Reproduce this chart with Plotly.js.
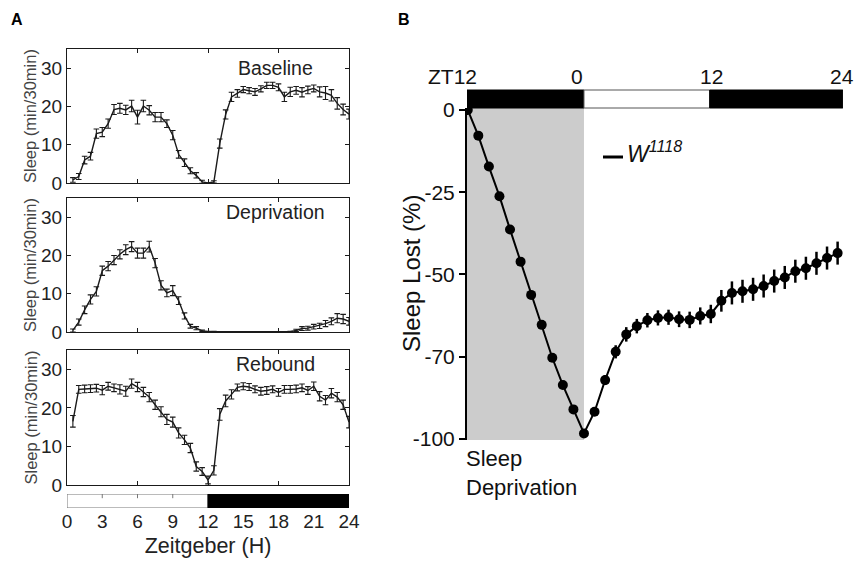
<!DOCTYPE html>
<html>
<head>
<meta charset="utf-8">
<script src="https://cdn.plot.ly/plotly-3.0.1.min.js"></script>
<style>html,body{margin:0;padding:0;background:#fff;}#chart{width:856px;height:568px;}</style>
</head>
<body>
<div id="chart"></div>
<script>
// ---------- Panel A data (half-hour bins, Zeitgeber hours) ----------
const zt = [];
for (let i = 1; i <= 48; i++) zt.push(i * 0.5);

const baseline = [0.8,1.7,6.0,7.0,12.9,13.3,15.5,19.2,19.5,19.1,20.1,17.2,20.1,19.0,17.2,17.2,15.5,12.5,7.5,5.3,3.2,2.0,0.3,0,
  0.3,10.3,17.9,22.5,23.4,24.4,24.1,23.8,24.6,25.5,25.5,25.0,22.5,23.8,24.2,23.7,24.3,24.7,23.8,23.5,22.9,20.8,19.2,18.0];
const baselineErr = [0.6,0.8,1.0,1.0,1.2,1.2,1.2,1.3,1.3,1.2,1.5,1.8,1.5,1.2,1.2,1.2,1.0,1.2,1.0,1.0,0.8,0.7,0.4,0,
  0.3,1.2,1.2,1.2,1.0,0.8,0.8,0.9,0.8,0.8,0.8,0.9,1.2,1.2,1.0,1.2,1.0,0.9,1.3,1.7,1.5,1.5,1.4,1.3];

const deprivation = [0.4,2.6,5.8,8.5,10.6,16.0,17.2,18.8,20.3,21.5,22.3,20.6,20.6,22.3,18.0,12.2,10.2,10.8,8.2,4.2,1.5,1.0,0.3,0.1,
  0.1,0,0,0,0,0,0,0,0,0,0,0,0,0.1,0.4,0.9,1.0,1.4,1.6,2.2,2.8,3.6,3.4,2.8];
const deprivationErr = [0.4,0.8,1.0,1.2,1.2,1.2,1.2,1.2,1.2,1.3,1.3,1.3,1.3,1.4,1.2,1.2,1.0,1.3,1.0,0.8,0.5,0.4,0.2,0.1,
  0.1,0,0,0,0,0,0,0,0,0,0,0,0,0.1,0.3,0.5,0.5,0.6,0.7,0.8,0.9,1.2,1.2,1.0];

const rebound = [16.5,24.8,24.9,25.0,25.1,24.6,25.6,25.2,24.8,24.3,26.3,25.4,24.1,22.8,20.8,19.0,17.0,16.3,13.5,11.7,9.6,4.8,3.5,1.3,
  3.8,18.3,21.8,23.5,25.3,25.6,25.4,24.8,24.3,24.5,24.8,24.0,24.8,24.8,24.9,25.2,24.5,25.6,23.0,22.0,23.8,22.8,20.8,16.3];
const reboundErr = [1.5,1.0,1.0,1.0,1.0,1.2,1.0,1.0,1.2,1.3,1.2,1.2,1.2,1.2,1.2,1.3,1.3,1.3,1.3,1.2,1.2,1.2,1.0,1.0,
  1.2,1.5,1.5,1.2,0.9,0.9,0.9,0.9,1.0,1.0,0.9,1.0,1.0,1.0,1.0,1.0,1.0,1.1,1.2,1.2,1.2,1.2,1.2,1.5];

const panelANames = ["Baseline", "Deprivation", "Rebound"];
const ztTicks = [0,3,6,9,12,15,18,21,24];

// ---------- Panel B data (hourly, relative to end of deprivation) ----------
const hoursB = [];
for (let h = -11; h <= 24; h++) hoursB.push(h);
const sleepLost = [0,-7.8,-17.2,-26.2,-36.3,-46.1,-56.2,-65.3,-75.3,-83.6,-91.0,-98.3,
  -91.7,-82.1,-73.5,-68.2,-65.7,-63.9,-63.2,-63.0,-63.6,-63.8,-62.6,-62.0,
  -58.0,-55.6,-55.1,-54.5,-53.5,-52.0,-50.9,-49.0,-48.1,-46.6,-45.0,-43.5];
const sleepLostErr = [0,0.5,0.5,0.5,0.5,0.5,0.5,0.5,0.5,0.5,0.5,0.5,
  1.0,1.5,2.0,2.2,2.2,2.2,2.3,2.3,2.4,2.5,2.6,2.8,
  3.3,3.5,3.5,3.5,3.5,3.5,3.5,3.5,3.5,3.5,3.5,3.5];
const yTicksB = [0,-25,-50,-75,-100];
const yTickTextB = ["0","-25","-50","-70","-100"];
const topBarLabels = ["ZT12","0","12","24"];

// ---------- build ----------
const FONT = "Liberation Sans, Arial, Helvetica, sans-serif";
const ink = "#1a1a1a";
const P = (px) => px / 856;           // pixel -> paper x
const Q = (py) => 1 - py / 568;       // pixel -> paper y

const seriesA = [baseline, deprivation, rebound];
const errA = [baselineErr, deprivationErr, reboundErr];
const traces = [];
seriesA.forEach((s, i) => {
  traces.push({
    x: zt, y: s, type: "scatter", mode: "lines",
    xaxis: i === 0 ? "x" : "x" + (i + 1), yaxis: i === 0 ? "y" : "y" + (i + 1),
    line: {color: ink, width: 1.4},
    error_y: {type: "data", array: errA[i], visible: true, color: ink, thickness: 1.1, width: 2.8},
    showlegend: false, hoverinfo: "skip"
  });
});
traces.push({
  x: hoursB, y: sleepLost, type: "scatter", mode: "lines+markers",
  xaxis: "x5", yaxis: "y5",
  line: {color: "#000", width: 2},
  marker: {color: "#000", size: 10},
  error_y: {type: "data", array: sleepLostErr, visible: true, color: "#000", thickness: 2.5, width: 0},
  showlegend: false, hoverinfo: "skip"
});

const xDomA = [P(67), P(349)];
const yPix = [[49, 183], [198, 332], [350, 485]];
const yDoms = yPix.map(p => [Q(p[1]), Q(p[0])]);

function xA(anchor) {
  return {domain: xDomA, range: [0, 24], anchor: anchor, showline: true, mirror: "ticks",
    linecolor: ink, linewidth: 1, ticks: "inside", ticklen: 4, tickcolor: ink,
    tickvals: [6, 12, 18], showticklabels: false, showgrid: false, zeroline: false, fixedrange: true};
}
function yA(dom, anchor) {
  return {domain: dom, range: [0, 35], anchor: anchor, showline: true, mirror: "ticks",
    linecolor: ink, linewidth: 1, ticks: "inside", ticklen: 4, tickcolor: ink,
    tickvals: [0, 10, 20, 30], tickfont: {family: FONT, size: 19, color: "#222"},
    showgrid: false, zeroline: false, fixedrange: true};
}

const layout = {
  width: 856, height: 568,
  margin: {l: 0, r: 0, t: 0, b: 0},
  paper_bgcolor: "#fff", plot_bgcolor: "rgba(0,0,0,0)",
  font: {family: FONT, color: ink},
  xaxis: xA("y"), yaxis: yA(yDoms[0], "x"),
  xaxis2: xA("y2"), yaxis2: yA(yDoms[1], "x2"),
  xaxis3: xA("y3"), yaxis3: yA(yDoms[2], "x3"),
  xaxis4: {domain: xDomA, range: [0, 24], anchor: "y4", showline: false, ticks: "",
    tickvals: ztTicks, ticktext: ztTicks.map(String), tickfont: {family: FONT, size: 19, color: "#222"},
    showgrid: false, zeroline: false, fixedrange: true,
    title: {text: "Zeitgeber (H)", font: {family: FONT, size: 21.5, color: "#222"}, standoff: 6}},
  yaxis4: {domain: [Q(508), Q(494)], range: [0, 1], anchor: "x4", visible: false, fixedrange: true},
  xaxis5: {domain: [P(467), P(843)], range: [-11.07, 24.51], anchor: "y5", visible: false, fixedrange: true},
  yaxis5: {domain: [Q(440), Q(108)], range: [-100.3, 0.6], anchor: "x5", showline: true,
    linecolor: "#000", linewidth: 2, ticks: "outside", ticklen: 6, tickwidth: 2, tickcolor: "#000",
    tickvals: yTicksB, ticktext: yTickTextB, tickfont: {family: FONT, size: 21, color: "#111"},
    showgrid: false, zeroline: false, fixedrange: true},
  shapes: [],
  annotations: []
};

// Panel A y titles (rotated text)
yPix.forEach(p => layout.annotations.push({text: "Sleep (min/30min)", xref: "paper", yref: "paper",
  x: P(30), y: Q((p[0] + p[1]) / 2), xanchor: "center", yanchor: "middle", textangle: -90,
  showarrow: false, font: {family: FONT, size: 16.5, color: "#444"}}));

// Panel B y title
layout.annotations.push({text: "Sleep Lost (%)", xref: "paper", yref: "paper",
  x: P(411), y: Q(274), xanchor: "center", yanchor: "middle", textangle: -90,
  showarrow: false, font: {family: FONT, size: 24, color: "#111"}});

// Panel A light/dark bar
layout.shapes.push({type: "rect", xref: "x4", yref: "y4", x0: 0, x1: 12, y0: 0, y1: 1,
  fillcolor: "#fff", line: {color: "#777", width: 1}});
layout.shapes.push({type: "rect", xref: "x4", yref: "y4", x0: 12, x1: 24, y0: 0, y1: 1,
  fillcolor: "#000", line: {color: "#000", width: 1}});
[3, 6, 9].forEach(t => layout.shapes.push({type: "line", xref: "x4", yref: "y4", x0: t, x1: t, y0: 1, y1: 0.7,
  line: {color: "#777", width: 1}}));

// Panel B shading & top light/dark bar
layout.shapes.push({type: "rect", xref: "x5", yref: "y5", x0: -11.07, x1: 0, y0: -100.3, y1: 0.6,
  fillcolor: "#cccccc", line: {width: 0}, layer: "below"});
layout.shapes.push({type: "rect", xref: "x5", yref: "paper", x0: -11.07, x1: 0, y0: Q(108), y1: Q(90),
  fillcolor: "#000", line: {color: "#000", width: 1}});
layout.shapes.push({type: "rect", xref: "x5", yref: "paper", x0: 0, x1: 11.9, y0: Q(108), y1: Q(90),
  fillcolor: "#fff", line: {color: "#555", width: 1}});
layout.shapes.push({type: "rect", xref: "x5", yref: "paper", x0: 11.9, x1: 24.5, y0: Q(108), y1: Q(90),
  fillcolor: "#000", line: {color: "#000", width: 1}});
// legend line
layout.shapes.push({type: "line", xref: "paper", yref: "paper", x0: P(603), x1: P(623), y0: Q(157), y1: Q(157),
  line: {color: "#000", width: 3}});

// Panel A labels
const nameY = [68, 212, 364];
panelANames.forEach((n, i) => layout.annotations.push({text: n, xref: "paper", yref: "paper",
  x: P(275), y: Q(nameY[i]), xanchor: "center", yanchor: "middle", showarrow: false,
  font: {family: FONT, size: 19.5, color: "#222"}}));

// Panel letters
layout.annotations.push({text: "<b>A</b>", xref: "paper", yref: "paper", x: P(17), y: Q(20),
  xanchor: "center", yanchor: "middle", showarrow: false, font: {family: FONT, size: 16, color: "#000"}});
layout.annotations.push({text: "<b>B</b>", xref: "paper", yref: "paper", x: P(404), y: Q(19),
  xanchor: "center", yanchor: "middle", showarrow: false, font: {family: FONT, size: 16, color: "#000"}});

// Panel B top bar labels
const topLabelX = [452, 577, 711, 842];
topBarLabels.forEach((t, i) => layout.annotations.push({text: t, xref: "paper", yref: "paper",
  x: P(topLabelX[i]), y: Q(76), xanchor: "center", yanchor: "middle", showarrow: false,
  font: {family: FONT, size: 21, color: "#111"}}));

// legend text
layout.annotations.push({text: "<i>W<sup>1118</sup></i>", xref: "paper", yref: "paper",
  x: P(625), y: Q(152), xanchor: "left", yanchor: "middle", showarrow: false,
  font: {family: FONT, size: 23, color: "#111"}});

// Sleep Deprivation label
layout.annotations.push({text: "Sleep<br>Deprivation", xref: "paper", yref: "paper",
  x: P(464), y: Q(444), xanchor: "left", yanchor: "top", align: "left", showarrow: false,
  font: {family: FONT, size: 22, color: "#111"}});

Plotly.newPlot("chart", traces, layout, {staticPlot: true, displayModeBar: false});
</script>
</body>
</html>
